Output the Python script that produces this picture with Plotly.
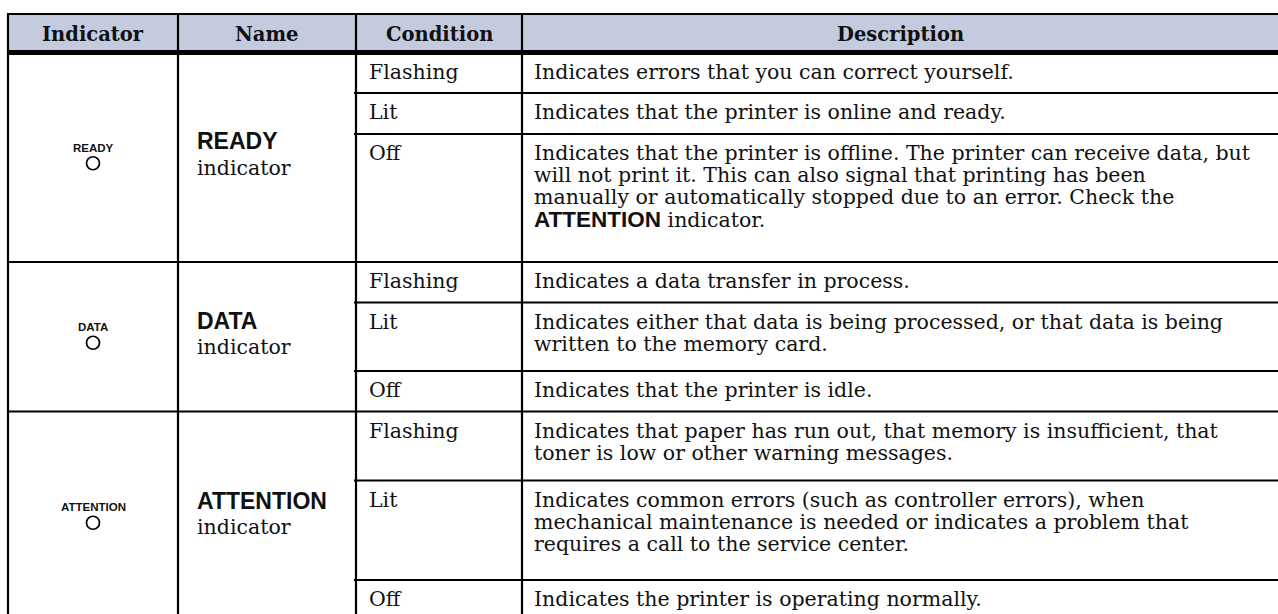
import plotly.graph_objects as go

# ---------------- data ----------------
headers = ["Indicator", "Name", "Condition", "Description"]
indicator_labels = ["READY", "DATA", "ATTENTION"]
indicator_names = ["READY", "DATA", "ATTENTION"]
conditions = [
    ["Flashing", "Lit", "Off"],
    ["Flashing", "Lit", "Off"],
    ["Flashing", "Lit", "Off"],
]
descriptions = [
    [
        ["Indicates errors that you can correct yourself."],
        ["Indicates that the printer is online and ready."],
        ["Indicates that the printer is offline. The printer can receive data, but",
         "will not print it. This can also signal that printing has been",
         "manually or automatically stopped due to an error. Check the",
         "[ATTENTION] indicator."],
    ],
    [
        ["Indicates a data transfer in process."],
        ["Indicates either that data is being processed, or that data is being",
         "written to the memory card."],
        ["Indicates that the printer is idle."],
    ],
    [
        ["Indicates that paper has run out, that memory is insufficient, that",
         "toner is low or other warning messages."],
        ["Indicates common errors (such as controller errors), when",
         "mechanical maintenance is needed or indicates a problem that",
         "requires a call to the service center."],
        ["Indicates the printer is operating normally."],
    ],
]

# ---------------- layout constants (reference pixel space) ----------------
W, H = 1278, 614
COL_X = [8, 178, 356, 522, 1284]
TOP_Y = 14
HEAD_Y = 52.5
ROW_EDGES = [
    [52.5, 93, 134, 262],
    [262, 302.5, 371, 411.5],
    [411.5, 480.5, 580, 622],
]
HEADER_BG = "rgb(197,203,222)"
SERIF = "DejaVu Serif"
SANS = "Liberation Sans"
BODY_SIZE = 20.5
LINE_H = 22.2
FIRST_OFF = 19
INK = "#111111"

fig = go.Figure()
fig.add_trace(go.Scatter(x=[0, W], y=[0, H], mode="markers",
                         marker=dict(opacity=0), hoverinfo="skip", showlegend=False))

shapes = []
annotations = []

def line(x0, y0, x1, y1, w=2.2):
    shapes.append(dict(type="line", xref="x", yref="y", x0=x0, y0=y0, x1=x1, y1=y1,
                       line=dict(color="black", width=w), layer="above"))

def bold_sans(m):
    return f'<span style="font-family:{SANS};font-size:22.5px"><b>{m}</b></span>'

# header background
shapes.append(dict(type="rect", xref="x", yref="y", x0=COL_X[0], x1=COL_X[-1],
                   y0=TOP_Y, y1=HEAD_Y, fillcolor=HEADER_BG, line=dict(width=0), layer="below"))

# header texts
head_cx = [(COL_X[0] + COL_X[1]) / 2, (COL_X[1] + COL_X[2]) / 2,
           (COL_X[2] + COL_X[3]) / 2, 900]
for i, h in enumerate(headers):
    annotations.append(dict(x=head_cx[i], y=(TOP_Y + HEAD_Y) / 2 + 0.8, text=f"<b>{h}</b>",
                            xanchor="center", yanchor="middle", showarrow=False,
                            font=dict(family=SERIF, size=19.5, color=INK)))

bottom = ROW_EDGES[-1][-1] + 20
for x in COL_X:
    line(x, TOP_Y - 1, x, bottom)
line(COL_X[0] - 1, TOP_Y, COL_X[-1], TOP_Y)
line(COL_X[0] - 1, HEAD_Y, COL_X[-1], HEAD_Y, w=5)

for g, edges in enumerate(ROW_EDGES):
    line(COL_X[0] - 1, edges[-1], COL_X[-1], edges[-1])
    for y in edges[1:-1]:
        line(COL_X[2] - 2, y, COL_X[-1], y)
    gc = (edges[0] + edges[-1]) / 2
    cx = (COL_X[0] + COL_X[1]) / 2
    annotations.append(dict(x=cx, y=gc - 9.5, text=f"<b>{indicator_labels[g]}</b>",
                            xanchor="center", yanchor="middle", showarrow=False,
                            font=dict(family=SANS, size=11.5, color=INK)))
    shapes.append(dict(type="circle", xref="x", yref="y", x0=cx - 6.5, x1=cx + 6.5,
                       y0=gc - 0.5, y1=gc + 12.5, line=dict(color="black", width=1.7),
                       fillcolor="white"))
    nx = COL_X[1] + 17
    annotations.append(dict(x=nx, y=gc - 16, text=f"<b>{indicator_names[g]}</b>",
                            xanchor="left", yanchor="middle", showarrow=False,
                            font=dict(family=SANS, size=23, color=INK)))
    annotations.append(dict(x=nx, y=gc + 10.5, text="indicator",
                            xanchor="left", yanchor="middle", showarrow=False,
                            font=dict(family=SERIF, size=BODY_SIZE, color=INK)))
    for r, cond in enumerate(conditions[g]):
        top = edges[r]
        annotations.append(dict(x=COL_X[2] + 11, y=top + FIRST_OFF, text=cond,
                                xanchor="left", yanchor="middle", showarrow=False,
                                font=dict(family=SERIF, size=BODY_SIZE, color=INK)))
        for k, txt in enumerate(descriptions[g][r]):
            txt = txt.replace("[ATTENTION]", bold_sans("ATTENTION"))
            annotations.append(dict(x=COL_X[3] + 10, y=top + FIRST_OFF + k * LINE_H, text=txt,
                                    xanchor="left", yanchor="middle", showarrow=False,
                                    font=dict(family=SERIF, size=BODY_SIZE, color=INK)))

fig.update_layout(
    width=W, height=H, margin=dict(l=0, r=0, t=0, b=0),
    paper_bgcolor="white", plot_bgcolor="white",
    xaxis=dict(range=[0, W], visible=False, fixedrange=True),
    yaxis=dict(range=[H, 0], visible=False, fixedrange=True),
    shapes=shapes, annotations=annotations, showlegend=False,
)
fig.write_html("out.html", config={"displayModeBar": False},
               post_script="document.body.style.margin='0';document.body.style.overflow='hidden';")
